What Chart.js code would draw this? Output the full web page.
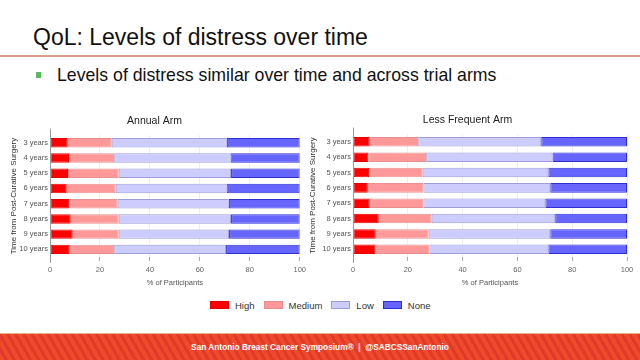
<!DOCTYPE html>
<html><head><meta charset="utf-8">
<script src="https://cdn.jsdelivr.net/npm/chart.js@4.4.1/dist/chart.umd.min.js"></script>
<style>
html,body{margin:0;padding:0;background:#fff;}
body{width:640px;height:360px;position:relative;overflow:hidden;font-family:"Liberation Sans",Arial,sans-serif;}
#title{position:absolute;left:33px;top:22px;font-size:23px;line-height:30px;color:#111;white-space:nowrap;}
#rule{position:absolute;left:0;top:55px;width:640px;height:2px;background:#d7a189;}
#bullet{position:absolute;left:36px;top:72px;width:5px;height:6px;background:#5cb85c;}
#sub{position:absolute;left:57px;top:64px;font-size:17.7px;line-height:22px;color:#111;white-space:nowrap;}
.cv{position:absolute;}
#legend{position:absolute;left:210px;top:299px;height:12px;display:flex;align-items:center;font-size:9.5px;color:#333;}
#legend .it{display:flex;align-items:center;margin-right:9px;}
#legend .bx{width:19px;height:8px;margin-right:6px;}
#footer{position:absolute;left:0;top:333px;width:640px;height:27px;border-top:1px solid #e9b496;box-sizing:border-box;
background:repeating-linear-gradient(60deg,#ee4b2b 0px,#ee4b2b 4px,#e2392a 4px,#e2392a 7px);}
#foot{position:absolute;left:0;top:340px;width:640px;text-align:center;color:#fff;font-weight:bold;font-size:8.3px;line-height:14px;white-space:nowrap;}
</style></head>
<body>
<div id="title">QoL: Levels of distress over time</div>
<div id="rule"></div>
<div id="bullet"></div>
<div id="sub">Levels of distress similar over time and across trial arms</div>
<canvas id="c1" class="cv" width="310" height="177" style="left:0;top:110px;width:310px;height:177px"></canvas>
<canvas id="c2" class="cv" width="336" height="178" style="left:304px;top:109px;width:336px;height:178px"></canvas>
<div id="legend"></div>
<div id="footer"></div>
<div id="foot">San Antonio Breast Cancer Symposium® &nbsp;|&nbsp; @SABCSSanAntonio</div>
<script>
const years = ["3 years","4 years","5 years","6 years","7 years","8 years","9 years","10 years"];
const levels = ["High","Medium","Low","None"];
const xTicks = [0,20,40,60,80,100];

// Annual Arm (% of participants per level)
const annualHigh   = [7.1,7.6,7.2,6.7,7.7,8.3,9.1,7.9];
const annualMedium = [17.6,18.1,20.3,19.6,19.4,19.2,18.4,17.8];
const annualLow    = [46.1,46.6,45.0,44.4,44.5,45.0,44.2,44.8];
const annualNone   = [29.2,27.7,27.5,29.3,28.4,27.5,28.3,29.5];

// Less Frequent Arm
const lessHigh   = [6.1,5.6,5.9,5.4,6.1,9.4,8.3,8.2];
const lessMedium = [17.7,21.1,19.5,20.3,19.6,19.3,19.3,19.7];
const lessLow    = [44.9,46.1,45.9,46.3,44.5,45.1,44.4,43.4];
const lessNone   = [31.3,27.2,28.7,28.0,29.8,26.2,28.0,28.7];

const fills   = ["#ff0000","#ff9999","#ccccff","#6666ff"];
const borders = ["#e60000","#e89090","#9d9dd8","#2e2ed6"];
const FONT = "'Liberation Sans', Arial, sans-serif";

const axisLine = {
  id:'axisLine',
  afterDraw(chart){
    const a = chart.chartArea, ctx = chart.ctx;
    ctx.save();
    ctx.strokeStyle = '#9a9a9a'; ctx.lineWidth = 1;
    ctx.beginPath();
    ctx.moveTo(Math.round(a.left)+0.5, a.top-6.5);
    ctx.lineTo(Math.round(a.left)+0.5, a.bottom+6);
    ctx.stroke();
    ctx.restore();
  }
};

function makeChart(id, title, series, padL, yWidth, padR){
  const datasets = series.map((d,i)=>({
    label: levels[i], data: d,
    backgroundColor: fills[i], borderColor: borders[i],
    borderWidth: 1, borderSkipped: false,
    barPercentage: 0.62, categoryPercentage: 1
  }));
  return new Chart(document.getElementById(id), {
    type:'bar',
    data:{labels: years, datasets},
    plugins:[axisLine],
    options:{
      indexAxis:'y', responsive:false, animation:false,
      layout:{padding:{left:padL,right:padR,top:0,bottom:0}},
      plugins:{
        legend:{display:false}, tooltip:{enabled:false},
        title:{display:true, text:title, color:'#222', font:{family:FONT,size:10.5,weight:'normal'}, padding:{top:4.5,bottom:8}}
      },
      scales:{
        x:{stacked:true, min:0, max:100,
           afterBuildTicks(s){ s.ticks = xTicks.map(v=>({value:v})); },
           ticks:{color:'#666', font:{family:FONT,size:7.5}, padding:4},
           grid:{color:'#eeeeee', tickColor:'#aaaaaa', tickLength:4},
           border:{display:false},
           title:{display:true, text:'% of Participants', color:'#555', font:{family:FONT,size:7.5}, padding:{top:0,bottom:0}}
        },
        y:{stacked:true,
           ticks:{color:'#555', font:{family:FONT,size:7.5}, padding:2},
           grid:{display:false, drawTicks:false},
           border:{display:false},
           title:{display:true, text:'Time from Post-Curative Surgery', color:'#333', font:{family:FONT,size:8}, padding:{top:0,bottom:0}},
           afterFit(s){ s.width = yWidth; }
        }
      }
    }
  });
}

makeChart('c1','Annual Arm',[annualHigh,annualMedium,annualLow,annualNone], 9, 41, 10);
makeChart('c2','Less Frequent Arm',[lessHigh,lessMedium,lessLow,lessNone], 4, 45, 13);

const lg = document.getElementById('legend');
levels.forEach((l,i)=>{
  const it = document.createElement('div'); it.className='it';
  const b = document.createElement('div'); b.className='bx'; b.style.background=fills[i]; b.style.border='1px solid '+borders[i]; b.style.boxSizing='border-box';
  const t = document.createElement('span'); t.textContent = l;
  it.appendChild(b); it.appendChild(t); lg.appendChild(it);
});
</script>
</body></html>
